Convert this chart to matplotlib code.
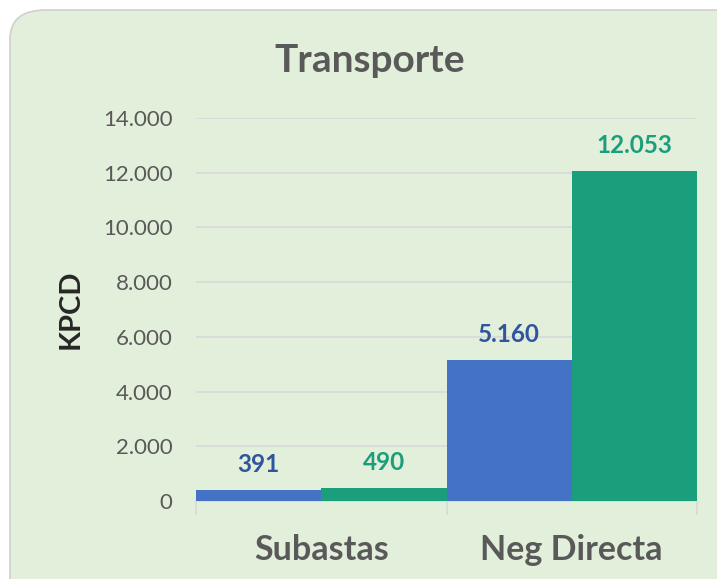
import matplotlib.pyplot as plt
import numpy as np
from matplotlib.patches import FancyBboxPatch
from matplotlib.ticker import FuncFormatter, FixedLocator

categories = ["Subastas", "Neg Directa"]
serie_azul = [391, 5160]
serie_verde = [490, 12053]
yticks = [0, 2000, 4000, 6000, 8000, 10000, 12000, 14000]

AZUL = "#4472C4"
VERDE = "#1B9E7B"
AZUL_TXT = "#2F55A0"
VERDE_TXT = "#1B9E7B"
GRIS = "#595959"
FONDO = "#E2EFDA"

plt.rcParams["font.family"] = ["Lato", "DejaVu Sans"]


def miles(v, pos=None):
    return f"{int(round(v)):,}".replace(",", ".")


fig = plt.figure(figsize=(7.17, 5.79), dpi=100)
fig.patch.set_facecolor("white")

# rounded chart frame, behind the axes
frame = FancyBboxPatch((10 / 717, -0.05), 1.05, 1 - 10 / 579 + 0.05,
                       boxstyle="round,pad=0,rounding_size=0.05",
                       transform=fig.transFigure, facecolor=FONDO,
                       edgecolor="#D0D0D0", linewidth=1.2, zorder=-10)
fig.patches.append(frame)

ax = fig.add_axes([196 / 717, 1 - 501 / 579, 501 / 717, 383 / 579])
ax.set_facecolor("none")
ax.set_zorder(1)

x = np.arange(len(categories))
w = 0.5
b1 = ax.bar(x - w / 2, serie_azul, w, color=AZUL, zorder=3)
b2 = ax.bar(x + w / 2, serie_verde, w, color=VERDE, zorder=3)

for bars, color in ((b1, AZUL_TXT), (b2, VERDE_TXT)):
    for r in bars:
        ax.annotate(miles(r.get_height()),
                    (r.get_x() + r.get_width() / 2, r.get_height()),
                    xytext=(0, 10), textcoords="offset points",
                    ha="center", va="bottom", fontsize=17.5,
                    fontweight="bold", color=color)

ax.set_xlim(-0.5, 1.5)
ax.set_ylim(0, 14000)
ax.yaxis.set_major_locator(FixedLocator(yticks))
ax.yaxis.set_major_formatter(FuncFormatter(miles))
ax.grid(axis="y", color="#D9D9D9", linewidth=1.2, zorder=0)

ax.set_xticks(x)
ax.set_xticklabels(categories, fontsize=24.5, fontweight="bold", color=GRIS)
ax.set_xticks([-0.5, 0.5, 1.5], minor=True)
ax.tick_params(axis="x", which="major", length=0, pad=24)
ax.tick_params(axis="x", which="minor", length=10, color="#D9D9D9", width=1.2)
ax.tick_params(axis="y", length=0, labelsize=16, labelcolor=GRIS, pad=17)

for s in ("top", "right", "left"):
    ax.spines[s].set_visible(False)
ax.spines["bottom"].set_color("#D9D9D9")
ax.spines["bottom"].set_linewidth(1.2)

ax.set_ylabel("KPCD", fontsize=21, fontweight="bold", color="#262626", labelpad=14)
fig.text(370 / 717, 1 - 60 / 579, "Transporte", ha="center", va="center",
         fontsize=28, fontweight="bold", color=GRIS)

fig.savefig("out.png", dpi=100, facecolor=fig.get_facecolor())
